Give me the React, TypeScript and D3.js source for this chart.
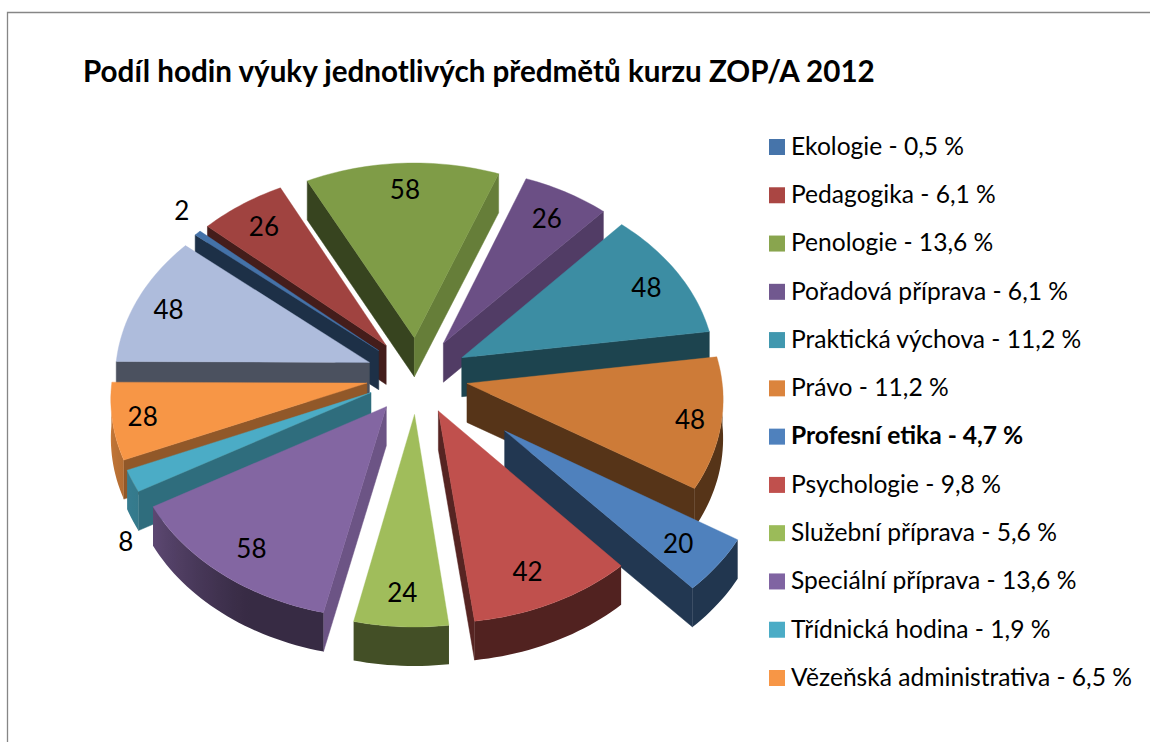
import React from "react";
import * as d3 from "d3";

const titleText = "Podíl hodin výuky jednotlivých předmětů kurzu ZOP/A 2012";
const legendNames = ["Ekologie","Pedagogika","Penologie","Pořadová příprava","Praktická výchova","Právo","Profesní etika","Psychologie","Služební příprava","Speciální příprava","Třídnická hodina","Vězeňská administrativa"];
const legendShares = ["0,5","6,1","13,6","6,1","11,2","11,2","4,7","9,8","5,6","13,6","1,9","6,5"];
const hours = [2,26,58,26,48,48,20,42,24,58,8,28,48];
const legendColors = ["#4674AA","#AA4643","#89A54E","#71588F","#4198AF","#DB843D","#4F81BD","#C0504D","#9BBB59","#8064A2","#4BACC6","#F79646"];
const topColors = ["#4472A8","#A04340","#7F9C47","#6B4F85","#3C8DA3","#CD7B38","#4F81BD","#C0504D","#A0BD5B","#8366A2","#4BACC6","#F79646","#AEBCDC"];
const explosions = [0.2,0.2,0.2,0.2,0.2,0.2,0.44,0.2,0.2,0.2,0.2,0.2,0.2];
const labelNudgeX = [22,0,1,-1,3,10,-4,-7,-1,2,48,-11,-6];
const labelNudgeY = [2,0,0,3,2,3,1,2,2,3,40,1,1];
const labelRadius = [1.22,0.84,0.84,0.84,0.84,0.84,0.84,0.84,0.84,0.84,1.22,0.84,0.84];

const W = 1150, H = 742;
const cx = 417, cy = 375.5, A = 254.5, B = 192, K = 0.07, DEPTH = 39;
const START = (-50.1 * Math.PI) / 180;
const FONT = "Lato, Carlito, Calibri, sans-serif";

const sx = d3.scaleLinear().domain([-1, 1]).range([cx - A, cx + A]);
const sy = d3.scaleLinear().domain([-1, 1]).range([cy - B, cy + B]);
const project = (X: number, Y: number, dz = 0): [number, number] => {
  const s = 1 / (1 - K * Y);
  return [sx(X * s), sy(Y * s) + dz];
};
const dirOf = (t: number): [number, number] => [Math.sin(t), -Math.cos(t)];
const pathOf = d3.line<[number, number]>();

const faceShade = d3.scaleLinear().domain([90, 132, 180, 210, 270]).range([0.85, 0.76, 0.43, 0.42, 0.45]).clamp(true);
const wallShade = d3.scaleLinear().domain([90, 210, 240, 270]).range([0.42, 0.42, 0.7, 0.82]).clamp(true);
const tint = (c: string, f: number) => {
  const r = d3.rgb(c);
  return d3.rgb(r.r * f, r.g * f, r.b * f).formatHex();
};
const norm = (deg: number) => ((deg % 360) + 360) % 360;

const arcs = d3.pie<number>().sort(null).startAngle(START).endAngle(START + 2 * Math.PI)(hours);

function Slice({ i }: { i: number }) {
  const a = arcs[i];
  const mid = (a.startAngle + a.endAngle) / 2;
  const [ex, ey] = dirOf(mid).map((d) => d * explosions[i]);
  const rim = (t: number, dz = 0) => {
    const [dx, dy] = dirOf(t);
    return project(ex + dx, ey + dy, dz);
  };
  const apex = (dz = 0) => project(ex, ey, dz);
  const n = Math.max(2, Math.ceil(((a.endAngle - a.startAngle) * 180) / Math.PI / 1.5));
  const ts = d3.range(n + 1).map((k) => a.startAngle + ((a.endAngle - a.startAngle) * k) / n);
  const col = topColors[i];
  const faces: React.ReactNode[] = [];
  const addFace = (t: number, normalDeg: number, key: string) => {
    const phi = norm(normalDeg);
    if (-Math.cos((phi * Math.PI) / 180) <= 0) return;
    const f = tint(col, faceShade(phi));
    faces.push(
      <path key={key} d={pathOf([apex(), rim(t), rim(t, DEPTH), apex(DEPTH)])! + "Z"} fill={f} stroke={f} strokeWidth={0.5} />
    );
  };
  const sd = (a.startAngle * 180) / Math.PI;
  const ed = (a.endAngle * 180) / Math.PI;
  addFace(a.startAngle, sd - 90, "s");
  addFace(a.endAngle, ed + 90, "e");
  const vis = ts.filter((t) => {
    const d = norm((t * 180) / Math.PI);
    return d > 90 && d < 270;
  });
  let wall: React.ReactNode = null;
  if (vis.length > 1) {
    const pts = vis.map((t) => rim(t));
    const x0 = d3.min(pts, (p) => p[0])!;
    const x1 = d3.max(pts, (p) => p[0])!;
    const id = `wall${i}`;
    const stops = vis
      .map((t) => ({ off: x1 > x0 ? (rim(t)[0] - x0) / (x1 - x0) : 0, c: tint(col, wallShade(norm((t * 180) / Math.PI))) }))
      .sort((p, q) => p.off - q.off);
    wall = (
      <g>
        <defs>
          <linearGradient id={id} gradientUnits="userSpaceOnUse" x1={x0} x2={x1} y1={0} y2={0}>
            {stops.map((s, k) => <stop key={k} offset={s.off} stopColor={s.c} />)}
          </linearGradient>
        </defs>
        <path d={pathOf([...pts, ...vis.map((t) => rim(t, DEPTH)).reverse()])! + "Z"} fill={`url(#${id})`} />
      </g>
    );
  }
  const top = pathOf([apex(), ...ts.map((t) => rim(t))])! + "Z";
  return (
    <g>
      {faces}
      {wall}
      <path d={top} fill={col} stroke={col} strokeWidth={0.4} />
    </g>
  );
}

export default function App() {
  const order = d3.range(hours.length).sort((p, q) => {
    const m = (j: number) => (arcs[j].startAngle + arcs[j].endAngle) / 2;
    return -Math.cos(m(p)) - -Math.cos(m(q));
  });
  return (
    <svg width={W} height={H} viewBox={`0 0 ${W} ${H}`} style={{ position: "absolute", left: 0, top: 0, background: "#fff" }}>
      <path d={`M7.5 ${H}V12.5H${W}`} fill="none" stroke="#868686" strokeWidth={1.3} />
      <text x={83} y={82} fontFamily={FONT} fontWeight={700} fontSize={29.6} fill="#000">{titleText}</text>
      {order.map((i) => <Slice key={i} i={i} />)}
      {hours.map((v, i) => {
        const mid = (arcs[i].startAngle + arcs[i].endAngle) / 2;
        const [dx, dy] = dirOf(mid);
        const r = explosions[i] + labelRadius[i];
        const [x, y] = project(dx * r, dy * r);
        return (
          <text key={i} x={x + labelNudgeX[i]} y={y + labelNudgeY[i]} dy="0.36em" textAnchor="middle" fontFamily={FONT} fontSize={26} fill="#000">{v}</text>
        );
      })}
      {legendNames.map((name, i) => {
        const y = d3.scaleLinear().domain([0, 11]).range([147, 678])(i);
        return (
          <g key={name}>
            <rect x={769} y={y - 8} width={16} height={16} fill={legendColors[i]} />
            <text x={791} y={y - 1} dy="0.36em" fontFamily={FONT} fontSize={24.6} fontWeight={name === "Profesní etika" ? 700 : 400} fill="#000">{`${name} - ${legendShares[i]} %`}</text>
          </g>
        );
      })}
    </svg>
  );
}
